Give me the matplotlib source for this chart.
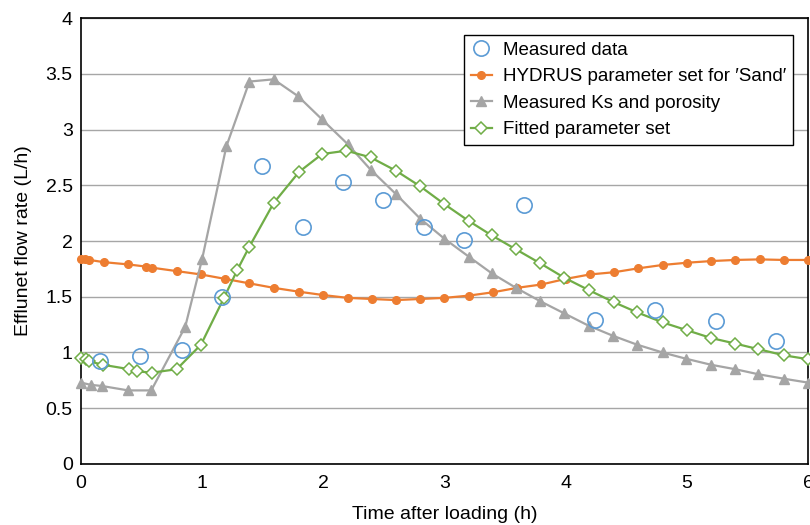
import matplotlib
matplotlib.use("Agg")
import matplotlib.pyplot as plt

plt.rcParams['font.family'] = ['Liberation Sans', 'DejaVu Sans']

# Measured data (circles)
czas_pomiar = [0.16, 0.49, 0.83, 1.16, 1.49, 1.83, 2.16, 2.49, 2.83, 3.16, 3.66, 4.24, 4.74, 5.24, 5.74]
wyplyw_pomiar = [0.92, 0.97, 1.02, 1.50, 2.67, 2.13, 2.53, 2.37, 2.13, 2.01, 2.32, 1.29, 1.38, 1.28, 1.10]

# HYDRUS parameter set for 'Sand'
czas_hydrus = [0, 0.03, 0.07, 0.19, 0.39, 0.54, 0.59, 0.79, 0.99, 1.19, 1.39, 1.59, 1.8, 2.0, 2.2, 2.4,
               2.6, 2.8, 3.0, 3.2, 3.4, 3.6, 3.8, 4.0, 4.2, 4.4, 4.6, 4.8, 5.0, 5.2, 5.4, 5.6, 5.8, 6.0]
wyplyw_hydrus = [1.84, 1.84, 1.83, 1.81, 1.79, 1.77, 1.76, 1.73, 1.70, 1.66, 1.62, 1.58, 1.545, 1.515, 1.49, 1.48,
                 1.47, 1.48, 1.49, 1.51, 1.54, 1.58, 1.61, 1.66, 1.70, 1.72, 1.755, 1.785, 1.805, 1.82, 1.83, 1.835, 1.83, 1.83]

# Measured Ks and porosity
czas_ks = [0, 0.08, 0.17, 0.39, 0.58, 0.86, 1.0, 1.2, 1.39, 1.59, 1.79, 1.99, 2.2, 2.39, 2.6, 2.8,
           3.0, 3.2, 3.39, 3.59, 3.79, 3.99, 4.19, 4.39, 4.59, 4.8, 4.99, 5.2, 5.4, 5.59, 5.8, 6.0]
wyplyw_ks = [0.73, 0.71, 0.70, 0.66, 0.66, 1.23, 1.84, 2.85, 3.43, 3.45, 3.30, 3.09, 2.87, 2.64, 2.42, 2.20,
             2.02, 1.86, 1.71, 1.58, 1.46, 1.35, 1.24, 1.15, 1.07, 1.00, 0.945, 0.89, 0.85, 0.805, 0.765, 0.73]

# Fitted parameter set
czas_fit = [0, 0.04, 0.07, 0.18, 0.4, 0.46, 0.59, 0.79, 0.99, 1.18, 1.29, 1.39, 1.59, 1.8, 1.99, 2.19, 2.39,
            2.6, 2.8, 3.0, 3.2, 3.39, 3.59, 3.79, 3.99, 4.19, 4.4, 4.59, 4.8, 5.0, 5.2, 5.4, 5.59, 5.8, 6.0]
wyplyw_fit = [0.95, 0.94, 0.92, 0.89, 0.85, 0.83, 0.82, 0.85, 1.07, 1.49, 1.74, 1.95, 2.34, 2.62, 2.78, 2.81, 2.75,
              2.63, 2.49, 2.33, 2.18, 2.05, 1.925, 1.80, 1.67, 1.56, 1.45, 1.36, 1.27, 1.20, 1.13, 1.08, 1.03, 0.975, 0.94]

fig = plt.figure(figsize=(8.1, 5.25), dpi=100)
ax = fig.add_axes([0.1, 0.1162, 0.8975, 0.8495])

ax.plot(czas_pomiar, wyplyw_pomiar, linestyle='none', marker='o', markersize=11,
        markerfacecolor='none', markeredgecolor='#5B9BD5', markeredgewidth=1.2,
        label='Measured data', clip_on=False, zorder=5)
ax.plot(czas_hydrus, wyplyw_hydrus, color='#ED7D31', linewidth=1.6, marker='o', markersize=5.5,
        label="HYDRUS parameter set for \u2032Sand\u2032", clip_on=False, zorder=3)
ax.plot(czas_ks, wyplyw_ks, color='#A5A5A5', linewidth=1.6, marker='^', markersize=7,
        label='Measured Ks and porosity', clip_on=False, zorder=3)
ax.plot(czas_fit, wyplyw_fit, color='#70AD47', linewidth=1.6, marker='D', markersize=6.5,
        markerfacecolor='white', markeredgewidth=1.1,
        label='Fitted parameter set', clip_on=False, zorder=4)

ax.set_xlim(0, 6)
ax.set_ylim(0, 4)
ax.set_xticks(range(0, 7))
ax.set_yticks([0, 0.5, 1, 1.5, 2, 2.5, 3, 3.5, 4])
ax.set_yticklabels(['0', '0.5', '1', '1.5', '2', '2.5', '3', '3.5', '4'])
ax.tick_params(length=0, labelsize=14, pad=6)
ax.tick_params(axis='x', pad=8)
ax.grid(axis='y', color='#a6a6a6', linewidth=1)
ax.set_axisbelow(True)
for s in ax.spines.values():
    s.set_color('black')
    s.set_linewidth(1.2)

ax.set_xlabel('Time after loading (h)', fontsize=14, labelpad=10)
ax.set_ylabel('Efflunet flow rate (L/h)', fontsize=14, labelpad=10)

leg = ax.legend(loc='upper right', bbox_to_anchor=(0.979, 0.962), borderaxespad=0, fontsize=13.5,
                frameon=True, fancybox=False, edgecolor='black', framealpha=1, borderpad=0.35,
                labelspacing=0.5, handlelength=1.1, handletextpad=0.6)
leg.get_frame().set_linewidth(1.0)

fig.savefig('out.png', dpi=100)
